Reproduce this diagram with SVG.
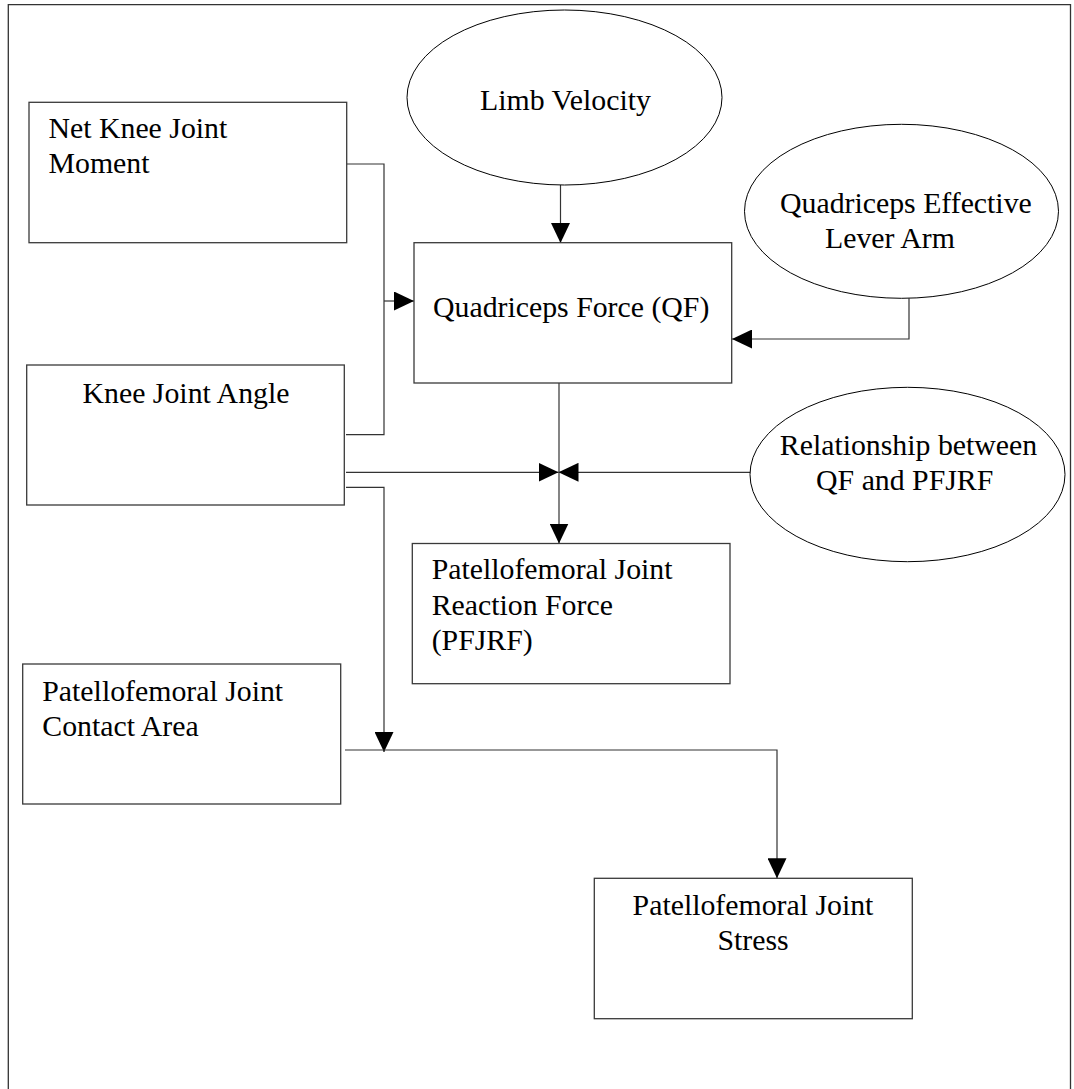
<svg xmlns="http://www.w3.org/2000/svg" width="1074" height="1089" viewBox="0 0 1074 1089">
  <style>
    .box { fill: #ffffff; stroke: #3a3a3a; stroke-width: 1.3; }
    .ell { fill: #ffffff; stroke: #000000; stroke-width: 1; }
    .lbl { font-family: "Liberation Serif", "Times New Roman", serif; font-size: 29.8px; fill: #000000; }
    .mid { text-anchor: middle; }
    .conn { fill: none; stroke: #333333; stroke-width: 1.2; }
    .frame { fill: none; stroke: #333333; stroke-width: 1.3; }
  </style>
  <defs>
    <marker id="arrow" viewBox="0 0 20 19" refX="20" refY="9.5" markerWidth="20" markerHeight="19" orient="auto" markerUnits="userSpaceOnUse">
      <path d="M0,0 L20,9.5 L0,19 z" fill="#000000"/>
    </marker>
  </defs>
  <rect width="1074" height="1089" fill="#ffffff"/>
  <path class="frame" d="M8.3,1095 V4.7 H1070.5 V1095"/>

  <g id="connectors">
    <path class="conn" d="M347,164 H384 V434.7 H346"/>
    <path class="conn" d="M384,301 H414" marker-end="url(#arrow)"/>
    <path class="conn" d="M560.5,185 V243" marker-end="url(#arrow)"/>
    <path class="conn" d="M909,298.3 V339 H732" marker-end="url(#arrow)"/>
    <path class="conn" d="M346,472.3 H558.5" marker-end="url(#arrow)"/>
    <path class="conn" d="M750.7,472.3 H558.5" marker-end="url(#arrow)"/>
    <path class="conn" d="M559,383 V543.5" marker-end="url(#arrow)"/>
    <path class="conn" d="M346,487.3 H384 V752" marker-end="url(#arrow)"/>
    <path class="conn" d="M345,750 H777 V878.3" marker-end="url(#arrow)"/>
  </g>

  <g id="net-knee-joint-moment">
    <rect class="box" x="29" y="102.3" width="317.7" height="140.4"/>
    <text class="lbl" x="48.5" y="138.3">Net Knee Joint</text>
    <text class="lbl" x="48.5" y="173.3">Moment</text>
  </g>

  <g id="limb-velocity">
    <ellipse class="ell" cx="564.5" cy="97.5" rx="157.5" ry="87.5"/>
    <text class="lbl mid" x="565.5" y="110">Limb Velocity</text>
  </g>

  <g id="quadriceps-effective-lever-arm">
    <ellipse class="ell" cx="901.5" cy="211.3" rx="157" ry="87"/>
    <text class="lbl" x="780" y="213.3">Quadriceps Effective</text>
    <text class="lbl" x="825" y="248.3">Lever Arm</text>
  </g>

  <g id="quadriceps-force">
    <rect class="box" x="414" y="242.7" width="317.7" height="140.3"/>
    <text class="lbl" x="433" y="316.7">Quadriceps Force (QF)</text>
  </g>

  <g id="knee-joint-angle">
    <rect class="box" x="26.7" y="365" width="317.6" height="140"/>
    <text class="lbl mid" x="186" y="403.3">Knee Joint Angle</text>
  </g>

  <g id="relationship-qf-pfjrf">
    <ellipse class="ell" cx="907.5" cy="474.5" rx="157.5" ry="87.2"/>
    <text class="lbl mid" x="908.5" y="455">Relationship between</text>
    <text class="lbl mid" x="904.7" y="490">QF and PFJRF</text>
  </g>

  <g id="pfjrf">
    <rect class="box" x="412.3" y="543.5" width="317.7" height="140.2"/>
    <text class="lbl" x="431.7" y="579.3">Patellofemoral Joint</text>
    <text class="lbl" x="431.7" y="614.6">Reaction Force</text>
    <text class="lbl" x="431.7" y="649.9">(PFJRF)</text>
  </g>

  <g id="contact-area">
    <rect class="box" x="22.7" y="664" width="318" height="140"/>
    <text class="lbl" x="42.3" y="701">Patellofemoral Joint</text>
    <text class="lbl" x="42.3" y="735.5">Contact Area</text>
  </g>

  <g id="pf-joint-stress">
    <rect class="box" x="594.3" y="878.3" width="318" height="140.4"/>
    <text class="lbl mid" x="753" y="915">Patellofemoral Joint</text>
    <text class="lbl mid" x="753" y="950">Stress</text>
  </g>
</svg>
